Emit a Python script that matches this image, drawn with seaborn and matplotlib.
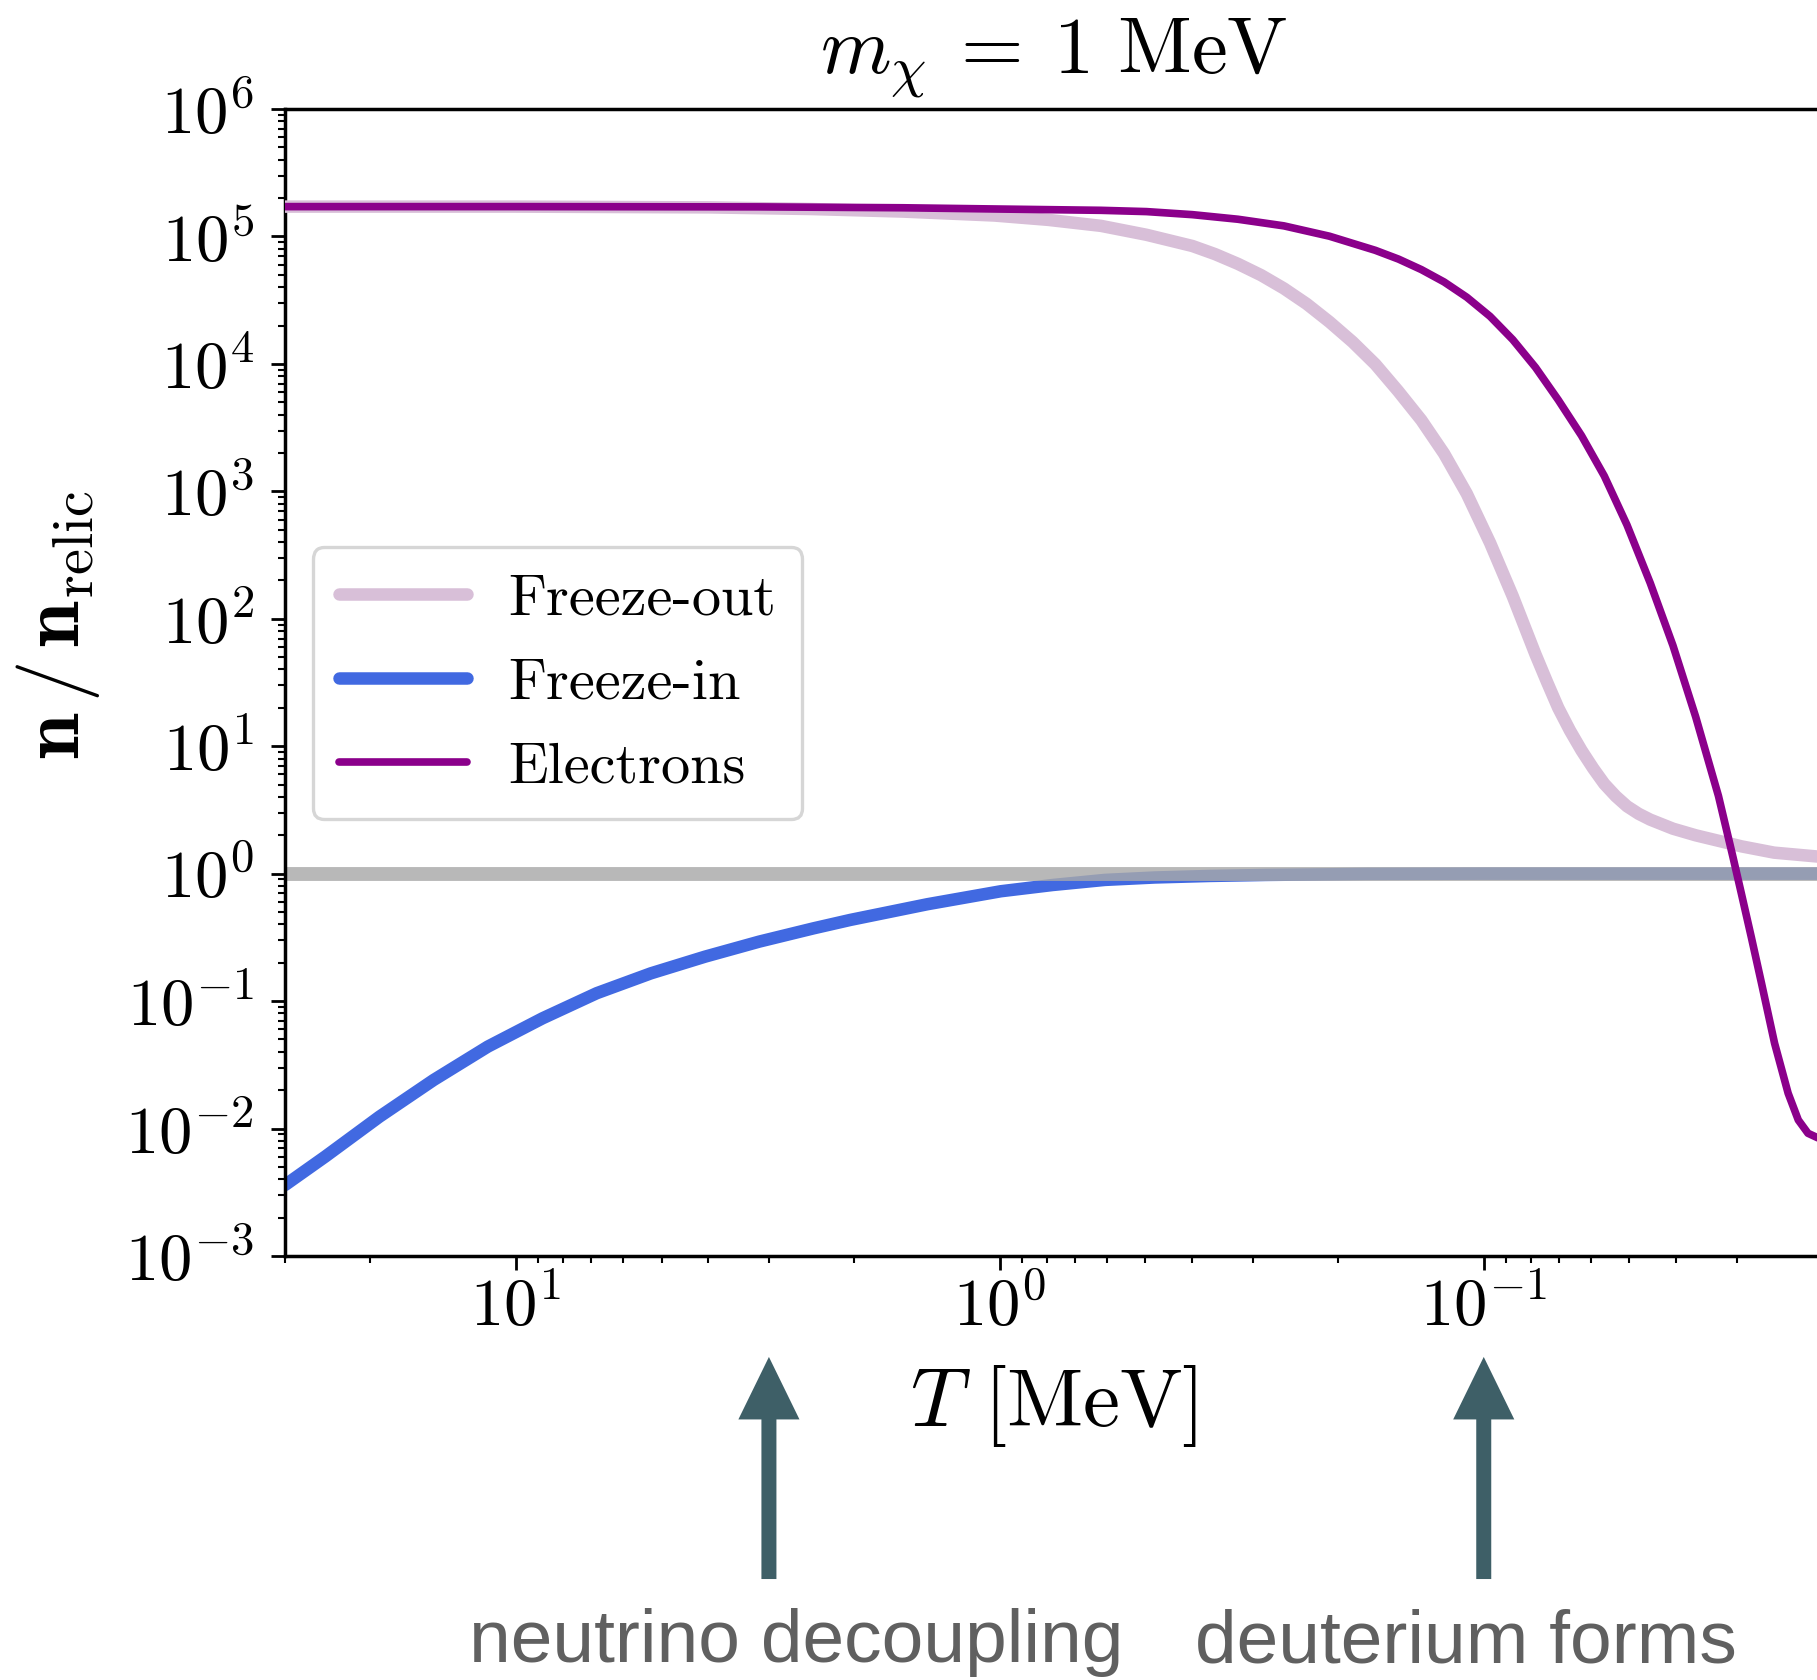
import numpy as np
import pandas as pd
import matplotlib
matplotlib.use("Agg")
import matplotlib.pyplot as plt
import seaborn as sns

# ---- data: log10(T / MeV) and log10(n / n_relic) for each species ----
fo_logT = [1.477, 1.0, 0.6, 0.389, 0.2, 0.011, -0.1, -0.209, -0.303, -0.398,
           -0.445, -0.492, -0.540, -0.587, -0.634, -0.681, -0.729, -0.776,
           -0.823, -0.871, -0.918, -0.965, -1.013, -1.060, -1.107, -1.131,
           -1.154, -1.178, -1.202, -1.226, -1.249, -1.273, -1.296, -1.320,
           -1.344, -1.391, -1.438, -1.533, -1.60, -1.691, -1.70]
fo_logn = [5.234, 5.234, 5.228, 5.215, 5.195, 5.164, 5.13, 5.083, 5.013, 4.925,
           4.861, 4.785, 4.696, 4.592, 4.471, 4.330, 4.172, 3.997,
           3.787, 3.559, 3.296, 2.981, 2.596, 2.176, 1.720, 1.502,
           1.300, 1.124, 0.967, 0.827, 0.705, 0.607, 0.529, 0.470,
           0.424, 0.353, 0.301, 0.214, 0.165, 0.134, 0.13]

fi_logT = [1.477, 1.394, 1.282, 1.170, 1.058, 0.945, 0.833, 0.721, 0.609, 0.497,
           0.385, 0.309, 0.15, -0.002, -0.109, -0.217, -0.32, -0.433, -0.55,
           -0.757, -1.0, -1.70]
fi_logn = [-2.443, -2.220, -1.907, -1.619, -1.357, -1.135, -0.938, -0.782, -0.651,
           -0.533, -0.429, -0.363, -0.24, -0.138, -0.089, -0.049, -0.03, -0.018,
           -0.01, -0.002, 0.0, 0.0]

el_logT = [1.477, 1.0, 0.5, 0.2, 0.0, -0.209, -0.303, -0.398, -0.492, -0.587,
           -0.681, -0.776, -0.824, -0.871, -0.918, -0.965, -1.013, -1.060,
           -1.107, -1.154, -1.202, -1.249, -1.296, -1.344, -1.391, -1.438,
           -1.485, -1.515, -1.532, -1.553, -1.574, -1.601, -1.629, -1.650,
           -1.670, -1.691, -1.70]
el_logn = [5.234, 5.234, 5.232, 5.225, 5.215, 5.205, 5.195, 5.171, 5.135, 5.083,
           5.002, 4.891, 4.822, 4.740, 4.643, 4.523, 4.373, 4.190,
           3.972, 3.717, 3.437, 3.121, 2.736, 2.281, 1.790, 1.230,
           0.61, 0.13, -0.15, -0.50, -0.860, -1.331, -1.723, -1.933,
           -2.037, -2.074, -2.08]

relic_level = 1.0

event_T = [3.0, 0.1]
event_labels = ["neutrino decoupling", "deuterium forms"]

series_labels = ["Freeze-out", "Freeze-in", "Electrons"]
series_colors = ["thistle", "royalblue", "darkmagenta"]


def to_frame(logT, logn):
    return pd.DataFrame({"T": 10.0 ** np.asarray(logT),
                         "n": 10.0 ** np.asarray(logn)})


fo = to_frame(fo_logT, fo_logn)
fi = to_frame(fi_logT, fi_logn)
el = to_frame(el_logT, el_logn)

# ---- style ----
sns.set_style("ticks")
plt.rcParams["font.family"] = "serif"
plt.rcParams["font.serif"] = ["cmr10", "DejaVu Serif"]
plt.rcParams["mathtext.fontset"] = "cm"
plt.rcParams["axes.formatter.use_mathtext"] = True
plt.rcParams["axes.unicode_minus"] = True
for key in ["text.color", "axes.labelcolor", "xtick.color", "ytick.color",
            "axes.edgecolor"]:
    plt.rcParams[key] = "black"

fig = plt.figure(figsize=(18.17, 16.8), dpi=100)
ax = fig.add_axes([0.15685, 0.25238, 0.8459, 0.68274])

sns.lineplot(data=fi, x="T", y="n", ax=ax, color=series_colors[1], lw=9,
             label=series_labels[1], estimator=None, sort=False, zorder=2)
ax.axhline(relic_level, color="darkgray", lw=10, alpha=0.82, zorder=2.5)
sns.lineplot(data=fo, x="T", y="n", ax=ax, color=series_colors[0], lw=9,
             label=series_labels[0], estimator=None, sort=False, zorder=3)
sns.lineplot(data=el, x="T", y="n", ax=ax, color=series_colors[2], lw=5.5,
             label=series_labels[2], estimator=None, sort=False, zorder=4)

ax.set_xscale("log")
ax.set_yscale("log")
ax.set_xlim(30, 0.02)
ax.set_ylim(1e-3, 1e6)

ax.yaxis.set_major_locator(matplotlib.ticker.LogLocator(base=10, numticks=30))
ax.yaxis.set_minor_locator(matplotlib.ticker.LogLocator(base=10, subs=np.arange(2, 10), numticks=100))
ax.xaxis.set_major_locator(matplotlib.ticker.LogLocator(base=10, numticks=30))
ax.xaxis.set_minor_locator(matplotlib.ticker.LogLocator(base=10, subs=np.arange(2, 10), numticks=100))
ax.yaxis.set_minor_formatter(matplotlib.ticker.NullFormatter())
ax.xaxis.set_minor_formatter(matplotlib.ticker.NullFormatter())

ax.tick_params(which="major", direction="out", length=10, width=2, labelsize=48,
               colors="black")
ax.tick_params(which="minor", direction="out", length=5, width=1.5, colors="black")
ax.tick_params(axis="x", which="major", pad=5)
ax.tick_params(axis="y", which="major", pad=12)

for side in ["left", "bottom", "top"]:
    ax.spines[side].set_linewidth(2.5)
    ax.spines[side].set_color("black")
ax.spines["right"].set_visible(False)

ax.set_title(r"$m_\chi\:=\:1\ \mathrm{MeV}$", fontsize=58, pad=26, color="black")
ax.set_xlabel(r"$T\ [\mathrm{MeV}]$", fontsize=60)
ax.xaxis.set_label_coords(0.5, -0.093)
ax.xaxis.label.set_va("top")
ax.set_ylabel(r"$\mathbf{n}\,/\,\mathbf{n}_{\mathrm{relic}}$", fontsize=60)
ax.yaxis.set_label_coords(-0.148, 0.55)
ax.yaxis.label.set_va("center")

# legend in the requested order
handles, labels = ax.get_legend_handles_labels()
order = [labels.index(s) for s in series_labels]
leg = ax.legend([handles[i] for i in order], [labels[i] for i in order],
                loc="upper left", bbox_to_anchor=(0.018, 0.618), borderaxespad=0,
                fontsize=42, frameon=True, fancybox=True, framealpha=1,
                handlelength=2.2, handletextpad=0.7, labelspacing=0.55,
                borderpad=0.45)
leg.get_frame().set_edgecolor("#d6d6d6")
leg.get_frame().set_linewidth(2.4)
for t in leg.get_texts():
    t.set_color("black")

# cosmological events below the temperature axis
arrow_color = "#3e5f67"
for T in event_T:
    ax.annotate("", xy=(T, 0.1923), xytext=(T, 0.0601),
                xycoords=("data", "figure fraction"),
                textcoords=("data", "figure fraction"),
                annotation_clip=False,
                arrowprops=dict(arrowstyle="simple,head_length=45,head_width=44,tail_width=10.8",
                                mutation_scale=1, color=arrow_color, lw=0,
                                shrinkA=0, shrinkB=0))

text_x = [0.438, 0.807]
for x, lab in zip(text_x, event_labels):
    fig.text(x, 0.0107, lab, ha="center", va="baseline", fontsize=54,
             color="#606060", family=["Liberation Sans", "DejaVu Sans"])

fig.savefig("out.png", dpi=100)
